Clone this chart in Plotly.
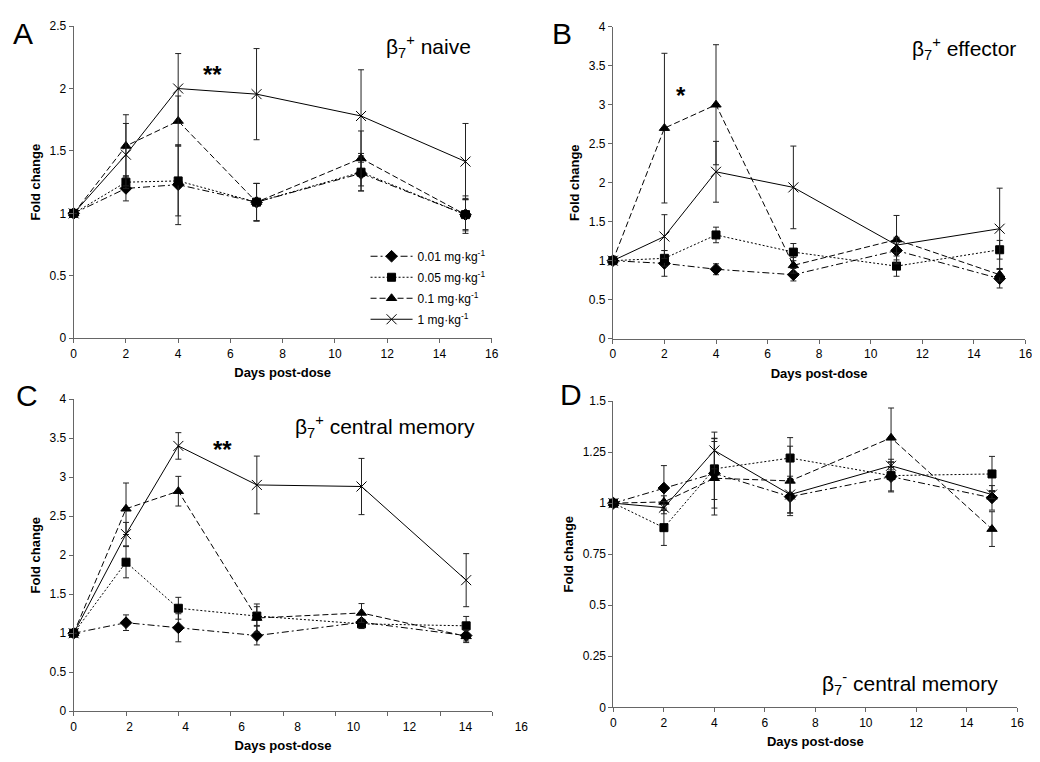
import plotly.graph_objects as go

# ---------------- data ----------------
days = [0, 2, 4, 7, 11, 15]
dose_labels = ["0.01 mg·kg<sup>-1</sup>", "0.05 mg·kg<sup>-1</sup>",
               "0.1 mg·kg<sup>-1</sup>", "1 mg·kg<sup>-1</sup>"]

# Panel A: beta7+ naive
A_001 = [1, 1.20, 1.23, 1.09, 1.32, 0.99]
A_001_err = [0, 0.10, 0.32, 0.15, 0.14, 0.12]
A_005 = [1, 1.25, 1.26, 1.09, 1.33, 0.99]
A_005_err = [0, 0.05, 0.28, 0.15, 0.15, 0.13]
A_01 = [1, 1.54, 1.74, 1.09, 1.44, 0.99]
A_01_err = [0, 0.25, 0.20, 0.15, 0.22, 0.15]
A_1 = [1, 1.47, 2.00, 1.955, 1.78, 1.415]
A_1_err = [0, 0.25, 0.28, 0.365, 0.37, 0.305]

# Panel B: beta7+ effector
B_001 = [1, 0.965, 0.89, 0.82, 1.13, 0.77]
B_001_err = [0, 0.165, 0.07, 0.08, 0.12, 0.12]
B_005 = [1, 1.03, 1.33, 1.11, 0.93, 1.14]
B_005_err = [0, 0.10, 0.10, 0.11, 0.13, 0.12]
B_01 = [1, 2.70, 3.00, 0.94, 1.27, 0.82]
B_01_err = [0, 0.96, 0.77, 0.10, 0.31, 0.08]
B_1 = [1, 1.31, 2.14, 1.94, 1.20, 1.41]
B_1_err = [0, 0.28, 0.39, 0.53, 0.10, 0.52]

# Panel C: beta7+ central memory
C_001 = [1, 1.135, 1.07, 0.97, 1.14, 0.97]
C_001_err = [0, 0.10, 0.18, 0.12, 0.04, 0.07]
C_005 = [1, 1.91, 1.32, 1.22, 1.12, 1.095]
C_005_err = [0, 0.20, 0.14, 0.12, 0.06, 0.12]
C_01 = [1, 2.595, 2.82, 1.195, 1.26, 0.96]
C_01_err = [0, 0.33, 0.19, 0.18, 0.12, 0.08]
C_1 = [1, 2.27, 3.40, 2.90, 2.88, 1.68]
C_1_err = [0, 0.15, 0.17, 0.37, 0.36, 0.34]

# Panel D: beta7- central memory
D_001 = [1, 1.074, 1.146, 1.032, 1.13, 1.026]
D_001_err = [0, 0.11, 0.17, 0.08, 0.07, 0.06]
D_005 = [1, 0.88, 1.168, 1.221, 1.135, 1.143]
D_005_err = [0, 0.087, 0.15, 0.10, 0.08, 0.086]
D_01 = [1, 1.006, 1.122, 1.109, 1.32, 0.873]
D_01_err = [0, 0.03, 0.18, 0.17, 0.146, 0.085]
D_1 = [1, 0.978, 1.258, 1.042, 1.183, 1.042]
D_1_err = [0, 0.03, 0.09, 0.09, 0.02, 0.02]

xtick_vals = [0, 2, 4, 6, 8, 10, 12, 14, 16]
yticks_A = [0, 0.5, 1, 1.5, 2, 2.5]
yticks_BC = [0, 0.5, 1, 1.5, 2, 2.5, 3, 3.5, 4]
yticks_D = [0, 0.25, 0.5, 0.75, 1, 1.25, 1.5]
ytext_D = ["0", "0.25", "0.5", "0.75", "1", "1.25", "1.5"]

# ---------------- styles ----------------
FONT = "Arial, Liberation Sans, sans-serif"
styles = [
    dict(symbol="diamond", size=9, dash="7px,3px,2px,3px"),
    dict(symbol="square", size=8, dash="2px,2px"),
    dict(symbol="triangle-up", size=9, dash="6px,3px"),
    dict(symbol="x-thin-open", size=10, dash="solid"),
]

panels = [
    ("1", [(A_001, A_001_err), (A_005, A_005_err), (A_01, A_01_err), (A_1, A_1_err)]),
    ("2", [(B_001, B_001_err), (B_005, B_005_err), (B_01, B_01_err), (B_1, B_1_err)]),
    ("3", [(C_001, C_001_err), (C_005, C_005_err), (C_01, C_01_err), (C_1, C_1_err)]),
    ("4", [(D_001, D_001_err), (D_005, D_005_err), (D_01, D_01_err), (D_1, D_1_err)]),
]

fig = go.Figure()
for pi, (idx, series) in enumerate(panels):
    xa = "x" if idx == "1" else "x" + idx
    ya = "y" if idx == "1" else "y" + idx
    for si, (vals, errs) in enumerate(series):
        st = styles[si]
        fig.add_trace(go.Scatter(
            x=days, y=vals, xaxis=xa, yaxis=ya,
            mode="lines+markers",
            name=dose_labels[si], legendgroup="g%d" % si, legendrank=si,
            showlegend=(pi == 0),
            line=dict(color="black", width=1, dash=st["dash"]),
            marker=dict(symbol=st["symbol"], size=st["size"], color="black",
                        line=dict(color="black", width=1)),
            error_y=dict(type="data", array=errs, symmetric=True,
                         color="#222222", thickness=1, width=3),
            cliponaxis=False,
        ))

# invisible helper trace carrying panel C's (offset) tick-label axis
fig.add_trace(go.Scatter(x=[xtick_vals[0], xtick_vals[-1]], y=[0, 0],
                         xaxis="x5", yaxis="y5", mode="markers",
                         marker=dict(opacity=0), showlegend=False,
                         hoverinfo="skip"))

W, H = 1040, 762
OFF = 8  # page body margin offset

def xd(a, b):
    return [(a - OFF) / W, (b - OFF) / W]

def yd(top, bottom):
    return [1 - (bottom - OFF) / H, 1 - (top - OFF) / H]

def px(a):
    return max(0.0, (a - OFF) / W)

def py(b):
    return min(1.0, 1 - (b - OFF) / H)

axis_common = dict(showgrid=False, zeroline=False, showline=True,
                   linecolor="#666666", linewidth=1, ticks="outside",
                   ticklen=4, tickcolor="#666666", ticklabeloverflow="allow",
                   tickfont=dict(family=FONT, size=12, color="black"))
xtitle = dict(text="<b>Days post-dose</b>", font=dict(family=FONT, size=13, color="black"), standoff=8)
ytitle = dict(text="<b>Fold change</b>", font=dict(family=FONT, size=13, color="black"), standoff=6)

fig.update_layout(
    width=W, height=H, margin=dict(l=0, r=0, t=0, b=0),
    paper_bgcolor="white", plot_bgcolor="rgba(0,0,0,0)",
    font=dict(family=FONT, color="black"),
    xaxis=dict(domain=xd(71.3, 493.3), range=[0, 16], tickvals=xtick_vals,
               anchor="y", title=xtitle, **axis_common),
    yaxis=dict(domain=yd(19.3, 337.3), range=[0, 2.5], tickvals=yticks_A,
               anchor="x", title=ytitle, **axis_common),
    xaxis2=dict(domain=xd(615.7, 1032.3), range=[0, 16], tickvals=xtick_vals,
                anchor="y2", title=xtitle, **axis_common),
    yaxis2=dict(domain=yd(20, 337.7), range=[0, 4], tickvals=yticks_BC,
                anchor="x2", title=ytitle, **axis_common),
    xaxis3=dict(domain=xd(71.3, 494), range=[0, 16], tickvals=xtick_vals,
                showticklabels=False, anchor="y3",
                title=dict(text="<b>Days post-dose</b>", font=dict(family=FONT, size=13, color="black"), standoff=25),
                **axis_common),
    yaxis3=dict(domain=yd(399.3, 717.3), range=[0, 4], tickvals=yticks_BC,
                anchor="x3", title=ytitle, **axis_common),
    xaxis5=dict(domain=xd(71.3, 523.3), range=[0, 16], tickvals=xtick_vals,
                anchor="y5", showgrid=False, zeroline=False, showline=False,
                ticks="outside", ticklen=4, tickcolor="rgba(0,0,0,0)",
                ticklabeloverflow="allow",
                tickfont=dict(family=FONT, size=12, color="black")),
    yaxis5=dict(domain=yd(399.3, 717.3), range=[0, 4], anchor="x5", visible=False),
    xaxis4=dict(domain=xd(616.3, 1024), range=[0, 16], tickvals=xtick_vals,
                anchor="y4", title=xtitle, **axis_common),
    yaxis4=dict(domain=yd(401.3, 713.3), range=[0, 1.5], tickvals=yticks_D,
                ticktext=ytext_D, anchor="x4", title=ytitle, **axis_common),
    legend=dict(x=px(366), y=py(239), xanchor="left", yanchor="top",
                bgcolor="rgba(0,0,0,0)", borderwidth=0, itemwidth=42,
                tracegroupgap=2,
                font=dict(family=FONT, size=12, color="black"),
                traceorder="grouped"),
)

ann = []
# panel letters
for letter, lx, ly, xa_ in [("A", 8, 8, "left"), ("B", 564, 8, "center"),
                            ("C", 24, 377, "center"), ("D", 573, 376, "center")]:
    ann.append(dict(text=letter, x=px(lx), y=py(ly), xref="paper", yref="paper",
                    xanchor=xa_, yanchor="top", showarrow=False,
                    font=dict(family=FONT, size=30, color="black")))
# panel titles
for txt, tx, ty in [("β<sub>7</sub><sup>+</sup> naive", 474, 40),
                    ("β<sub>7</sub><sup>+</sup> effector", 1025, 42),
                    ("β<sub>7</sub><sup>+</sup> central memory", 479, 427),
                    ("β<sub>7</sub><sup>-</sup> central memory", 1007, 689)]:
    ann.append(dict(text=txt, x=px(tx), y=py(ty), xref="paper", yref="paper",
                    xanchor="right", yanchor="middle", showarrow=False,
                    font=dict(family=FONT, size=21, color="black")))
# significance markers
for txt, xr, yr, xv, yv in [("**", "x", "y", 5.3, 2.11), ("*", "x2", "y2", 2.66, 3.12),
                            ("**", "x3", "y3", 5.67, 3.35)]:
    ann.append(dict(text="<b>" + txt + "</b>", x=xv, y=yv, xref=xr, yref=yr,
                    showarrow=False, xanchor="center", yanchor="middle",
                    font=dict(family=FONT, size=24, color="black")))
fig.update_layout(annotations=ann)

fig.write_html("out.html")
